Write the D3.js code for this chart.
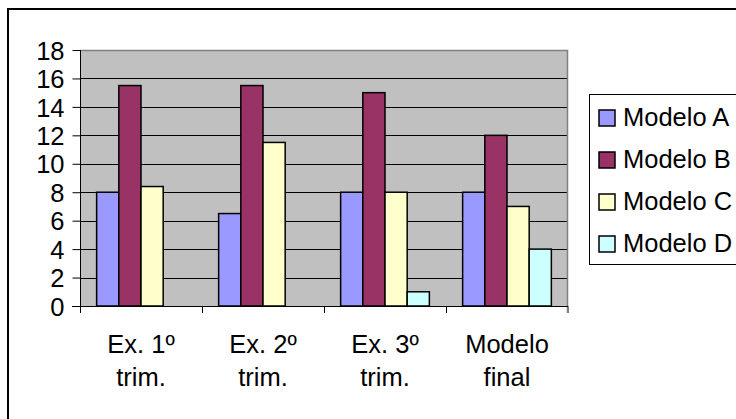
<!DOCTYPE html>
<html>
<head>
<meta charset="utf-8">
<script src="https://cdn.jsdelivr.net/npm/d3@7"></script>
<style>
  html, body { margin: 0; padding: 0; background: #fff; }
  svg { display: block; }
  text { font-family: "Liberation Sans", Arial, sans-serif; fill: #000; }
</style>
</head>
<body>
<svg id="chart" width="736" height="419"></svg>
<script>
// ---- data ----
const categories = [["Ex. 1º", "trim."], ["Ex. 2º", "trim."], ["Ex. 3º", "trim."], ["Modelo", "final"]];
const seriesNames = ["Modelo A", "Modelo B", "Modelo C", "Modelo D"];
const modeloA = [8, 6.5, 8, 8];
const modeloB = [15.5, 15.5, 15, 12];
const modeloC = [8.4, 11.5, 8, 7];
const modeloD = [0, 0, 1, 4];
const yTicks = [0, 2, 4, 6, 8, 10, 12, 14, 16, 18];
const colors = ["#9999FF", "#993366", "#FFFFCC", "#CCFFFF"];

const seriesValues = [modeloA, modeloB, modeloC, modeloD];
const FS = 25.5;

const svg = d3.select("#chart");

// outer chart border
svg.append("rect")
  .attr("x", 8).attr("y", 9).attr("width", 800).attr("height", 500)
  .attr("fill", "none").attr("stroke", "#000").attr("stroke-width", 2);

const plot = { left: 80, right: 568, top: 50, bottom: 306 };

const catIdx = categories.map((d, i) => i);
const x0 = d3.scaleBand().domain(catIdx).range([plot.left, plot.right])
  .paddingInner(0.2727).paddingOuter(0.13635);
const x1 = d3.scaleBand().domain(d3.range(seriesNames.length)).range([0, x0.bandwidth()]);
const y = d3.scaleLinear().domain([0, 18]).range([plot.bottom, plot.top]);

// plot background
svg.append("rect")
  .attr("x", plot.left).attr("y", plot.top)
  .attr("width", plot.right - plot.left).attr("height", plot.bottom - plot.top)
  .attr("fill", "#C0C0C0");

// gridlines
svg.append("g").selectAll("line").data(yTicks.filter(t => t > 0 && t < 18)).join("line")
  .attr("x1", plot.left).attr("x2", plot.right)
  .attr("y1", d => Math.round(y(d)) + 0.5).attr("y2", d => Math.round(y(d)) + 0.5)
  .attr("stroke", "#000").attr("stroke-width", 1);

// top and right border of plot area (gray)
svg.append("path")
  .attr("d", `M${plot.left},${plot.top + 0.5}H${plot.right - 0.5}V${plot.bottom + 7}`)
  .attr("fill", "none").attr("stroke", "#808080").attr("stroke-width", 1.5);

// bars
const barData = [];
catIdx.forEach(ci => {
  seriesValues.forEach((vals, si) => {
    if (vals[ci] > 0) barData.push({ ci, si, v: vals[ci] });
  });
});
svg.append("g").selectAll("rect").data(barData).join("rect")
  .attr("x", d => x0(d.ci) + x1(d.si))
  .attr("y", d => y(d.v))
  .attr("width", x1.bandwidth())
  .attr("height", d => y(0) - y(d.v))
  .attr("fill", d => colors[d.si])
  .attr("stroke", "#000").attr("stroke-width", 1.5);

// y axis
const yAxis = d3.axisLeft(y).tickValues(yTicks).tickSize(8).tickPadding(8).tickFormat(d3.format("d"));
const yg = svg.append("g").attr("transform", `translate(${plot.left + 0.5},0)`).call(yAxis);
yg.select(".domain").attr("d", `M0,${plot.top}V${plot.bottom + 7}`).attr("stroke", "#000");
yg.selectAll(".tick line").attr("stroke", "#000");
yg.selectAll(".tick text").attr("font-size", FS).attr("dy", "0.36em")
  .style("font-family", '"Liberation Sans", Arial, sans-serif').attr("fill", "#000");

// x axis baseline and ticks at category boundaries
svg.append("line")
  .attr("x1", plot.left - 8).attr("x2", plot.right)
  .attr("y1", plot.bottom + 0.5).attr("y2", plot.bottom + 0.5)
  .attr("stroke", "#000");
const step = x0.step();
const boundaries = d3.range(categories.length + 1).map(i => plot.left + i * step);
svg.append("g").selectAll("line").data(boundaries).join("line")
  .attr("x1", d => Math.round(d) + 0.5).attr("x2", d => Math.round(d) + 0.5)
  .attr("y1", plot.bottom).attr("y2", plot.bottom + 7)
  .attr("stroke", (d, i) => i === categories.length ? "#808080" : "#000");

// category labels
const labels = svg.append("g").selectAll("text").data(categories).join("text")
  .attr("text-anchor", "middle")
  .attr("font-size", FS)
  .attr("transform", (d, i) => `translate(${x0(i) + x0.bandwidth() / 2},0)`);
labels.selectAll("tspan").data(d => d).join("tspan")
  .attr("x", 0)
  .attr("y", (d, j) => 353 + j * 33)
  .text(d => d);

// legend
const lg = svg.append("g");
lg.append("rect")
  .attr("x", 589.5).attr("y", 94.5).attr("width", 200).attr("height", 170)
  .attr("fill", "#fff").attr("stroke", "#000").attr("stroke-width", 1);
const items = lg.selectAll("g.item").data(seriesNames).join("g")
  .attr("class", "item")
  .attr("transform", (d, i) => `translate(599,${117 + i * 42})`);
items.append("rect")
  .attr("x", 0).attr("y", -7).attr("width", 16).attr("height", 16)
  .attr("fill", (d, i) => colors[i]).attr("stroke", "#000").attr("stroke-width", 1.5);
items.append("text")
  .attr("x", 24).attr("y", 0).attr("dy", "0.36em")
  .attr("font-size", FS)
  .text(d => d);
</script>
</body>
</html>
